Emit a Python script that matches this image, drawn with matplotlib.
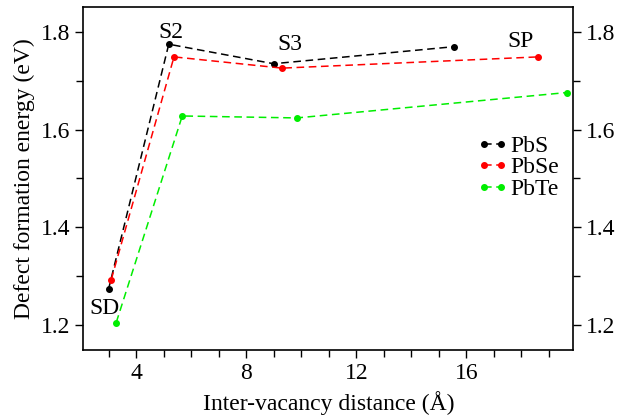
import matplotlib.pyplot as plt
from matplotlib.ticker import MultipleLocator

plt.rcParams['font.family'] = ['Liberation Serif', 'DejaVu Serif']

# values
pbs_x = [2.99, 5.18, 8.99, 15.56]
pbs_y = [1.273, 1.775, 1.735, 1.770]
pbse_x = [3.09, 5.37, 9.30, 18.61]
pbse_y = [1.293, 1.749, 1.726, 1.749]
pbte_x = [3.27, 5.67, 9.83, 19.65]
pbte_y = [1.205, 1.628, 1.624, 1.676]

site_labels = ['SD', 'S2', 'S3', 'SP']
label_x = [2.85, 5.26, 9.59, 17.95]
label_y = [1.256, 1.778, 1.752, 1.759]

fig = plt.figure(figsize=(6.23, 4.17), dpi=100)
ax = fig.add_axes([0.134, 0.161, 0.786, 0.822])

ax.plot(pbs_x, pbs_y, 'k--', marker='o', ms=4, lw=1.1, dashes=(5, 3), label='PbS')
ax.plot(pbse_x, pbse_y, color='#ff0000', ls='--', marker='o', ms=4, lw=1.1, dashes=(5, 3), label='PbSe')
ax.plot(pbte_x, pbte_y, color='#00ee00', ls='--', marker='o', ms=4, lw=1.1, dashes=(5, 3), label='PbTe')

for lab, x, y in zip(site_labels, label_x, label_y):
    va = 'top' if lab == 'SD' else 'bottom'
    ax.text(x, y, lab, fontsize=17, ha='center', va=va)

ax.set_xlim(2.08, 19.88)
ax.set_ylim(1.149, 1.851)
ax.xaxis.set_major_locator(MultipleLocator(4))
ax.xaxis.set_minor_locator(MultipleLocator(1))
ax.yaxis.set_major_locator(MultipleLocator(0.2))
ax.yaxis.set_minor_locator(MultipleLocator(0.1))
ax.tick_params(which='both', direction='out', labelsize=17, right=True, labelright=True, top=False, width=1)
ax.tick_params(which='major', length=6)
ax.tick_params(which='minor', length=5)
for s in ax.spines.values():
    s.set_linewidth(1.2)

ax.set_xlabel('Inter-vacancy distance (Å)', fontsize=17, labelpad=5)
ax.set_ylabel('Defect formation energy (eV)', fontsize=17, labelpad=4)

ax.legend(loc='upper left', bbox_to_anchor=(0.78, 0.66), frameon=False, fontsize=17, numpoints=2,
          handlelength=1.3, handletextpad=0.1, labelspacing=0.0, borderpad=0)

fig.savefig('out.png', dpi=100)
